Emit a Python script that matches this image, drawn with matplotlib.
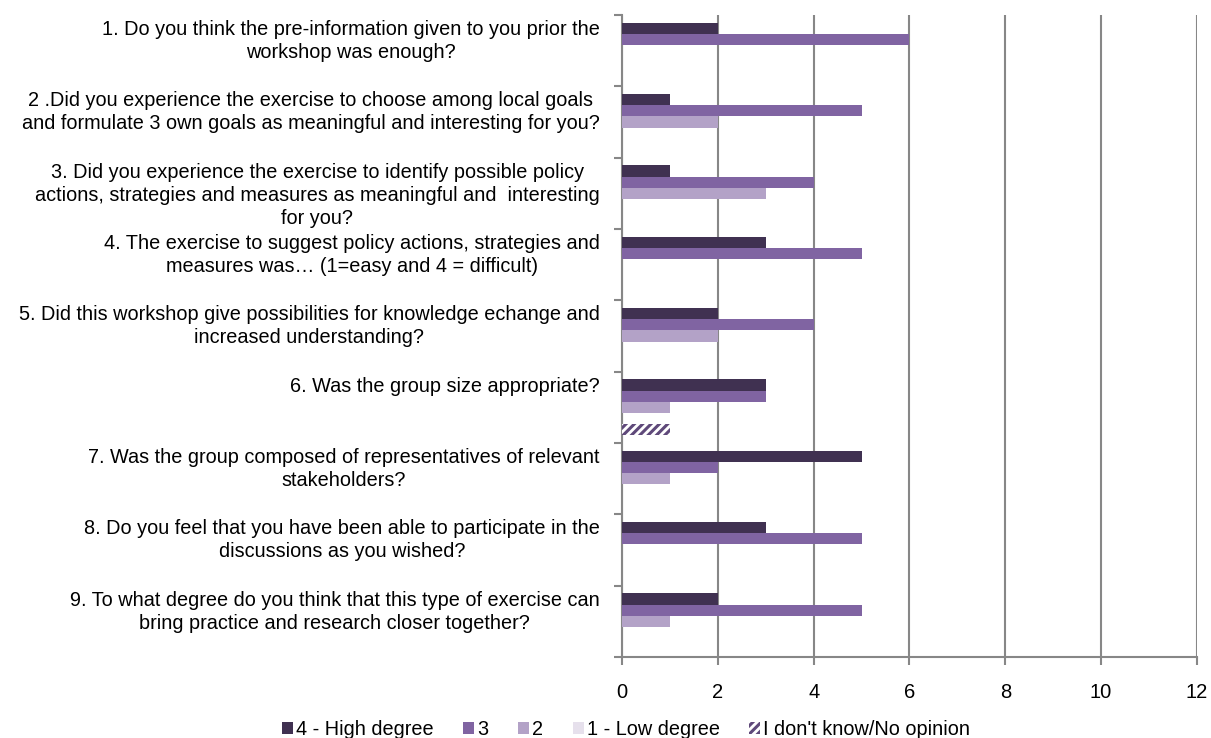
import numpy as np
import matplotlib
matplotlib.use('Agg')
import matplotlib.pyplot as plt
from matplotlib import transforms

plt.rcParams['font.family'] = ['Liberation Sans', 'DejaVu Sans']
plt.rcParams['hatch.linewidth'] = 2.2

questions = [
    "1. Do you think the pre-information given to you prior the\nworkshop was enough?",
    "2 .Did you experience the exercise to choose among local goals\nand formulate 3 own goals as meaningful and interesting for you?",
    "3. Did you experience the exercise to identify possible policy\nactions, strategies and measures as meaningful and  interesting\nfor you?",
    "4. The exercise to suggest policy actions, strategies and\nmeasures was\u2026 (1=easy and 4 = difficult)",
    "5. Did this workshop give possibilities for knowledge echange and\nincreased understanding?",
    "6. Was the group size appropriate?",
    "7. Was the group composed of representatives of relevant\nstakeholders?",
    "8. Do you feel that you have been able to participate in the\ndiscussions as you wished?",
    "9. To what degree do you think that this type of exercise can\nbring practice and research closer together?",
]

series_names = ["4 - High degree", "3", "2", "1 - Low degree", "I don't know/No opinion"]
high = [2, 1, 1, 3, 2, 3, 5, 3, 2]
three = [6, 5, 4, 5, 4, 3, 2, 5, 5]
two = [0, 2, 3, 0, 2, 1, 1, 0, 1]
low = [0, 0, 0, 0, 0, 0, 0, 0, 0]
dont_know = [0, 0, 0, 0, 0, 1, 0, 0, 0]

colors = ['#403151', '#8064A2', '#B3A2C7', '#E6E0EC', 'white']
grid_col = '#878787'

fig = plt.figure(figsize=(12.11, 7.38), dpi=100)
ax = fig.add_axes([0.5136, 0.1098, 0.4748, 0.8699])

y = np.arange(len(questions))
h = 0.157
all_series = [high, three, two, low, dont_know]
handles = []
for j, vals in enumerate(all_series):
    if j == 4:
        b = ax.barh(y + (j - 2) * h, vals, height=h, color='white',
                    edgecolor='#5F497A', hatch='////', linewidth=0,
                    label=series_names[j], zorder=3)
    else:
        b = ax.barh(y + (j - 2) * h, vals, height=h, color=colors[j],
                    linewidth=0, label=series_names[j], zorder=3)
    handles.append(b)

ax.set_xlim(0, 12)
ax.set_ylim(len(questions) - 0.5, -0.5)
ax.set_xticks(range(0, 13, 2))
ax.tick_params(axis='x', length=6, width=1.5, color=grid_col, pad=13, labelsize=14.5)

ax.set_yticks(np.arange(-0.5, len(questions), 1.0))
ax.set_yticklabels(questions + [''], multialignment='center', va='top',
                   fontsize=14.3, linespacing=1.27)
ax.tick_params(axis='y', length=6, width=1.5, color=grid_col, pad=10)
off = transforms.ScaledTranslation(0, -5 / 100, fig.dpi_scale_trans)
for lab in ax.get_yticklabels():
    lab.set_transform(lab.get_transform() + off)

ax.grid(axis='x', color=grid_col, linewidth=1.5, zorder=0)
for s in ['top', 'right']:
    ax.spines[s].set_visible(False)
for s in ['left', 'bottom']:
    ax.spines[s].set_color(grid_col)
    ax.spines[s].set_linewidth(1.5)

fig.legend(handles=handles, loc='lower center', bbox_to_anchor=(0.517, -0.025),
           ncol=5, frameon=False, fontsize=14.3, handlelength=0.55, handleheight=0.55,
           handletextpad=0.15, columnspacing=1.5)

fig.savefig('out.png', dpi=100)
